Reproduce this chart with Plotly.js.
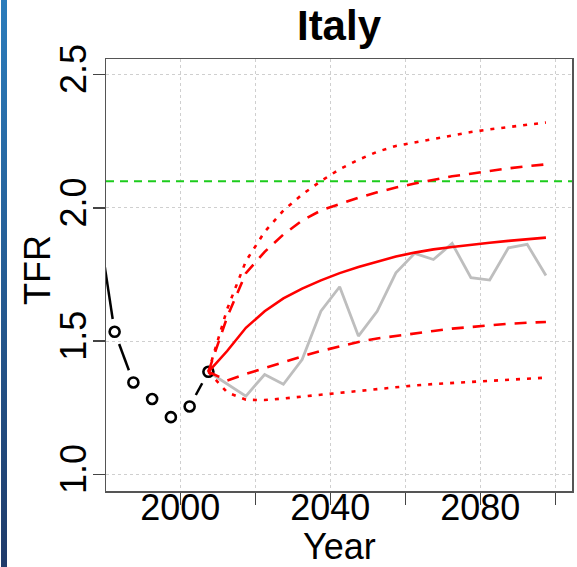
<!DOCTYPE html>
<html>
<head>
<meta charset="utf-8">
<script src="https://cdn.plot.ly/plotly-3.0.1.min.js"></script>
<style>
  html, body { margin: 0; padding: 0; background: #fff; overflow: hidden; }
  #chart { position: absolute; left: 0; top: 0; width: 577px; height: 567px; }
  #bar { position: absolute; left: 1px; top: 0; width: 6px; height: 567px;
         background: linear-gradient(#2b7cbb, #1f3b6a); z-index: 10; }
</style>
</head>
<body>
<div id="chart"></div>
<div id="bar"></div>
<script>
// ---- Data ----
const countryName = "Italy";
const xTitle = "Year";
const yTitle = "TFR";

const obsYears = [1977.5, 1982.5, 1987.5, 1992.5, 1997.5, 2002.5, 2007.5];
const obsTFR   = [2.00, 1.535, 1.345, 1.283, 1.215, 1.255, 1.385];

const projYears = [2007.5, 2012.5, 2017.5, 2022.5, 2027.5, 2032.5, 2037.5, 2042.5, 2047.5,
                   2052.5, 2057.5, 2062.5, 2067.5, 2072.5, 2077.5, 2082.5, 2087.5, 2092.5, 2097.5];

const medianTFR  = [1.385, 1.463, 1.550, 1.612, 1.660, 1.697, 1.728, 1.755, 1.778,
                    1.798, 1.817, 1.832, 1.844, 1.853, 1.862, 1.869, 1.876, 1.882, 1.888];
const upper80TFR = [1.385, 1.590, 1.755, 1.835, 1.900, 1.952, 1.990, 2.015, 2.038,
                    2.058, 2.076, 2.091, 2.105, 2.118, 2.128, 2.139, 2.148, 2.156, 2.163];
const lower80TFR = [1.385, 1.352, 1.377, 1.400, 1.422, 1.443, 1.463, 1.480, 1.497,
                    1.510, 1.520, 1.530, 1.538, 1.547, 1.553, 1.560, 1.565, 1.569, 1.572];
const upper95TFR = [1.385, 1.620, 1.800, 1.910, 1.990, 2.050, 2.100, 2.145, 2.180,
                    2.210, 2.232, 2.245, 2.259, 2.272, 2.284, 2.294, 2.303, 2.312, 2.320];
const lower95TFR = [1.385, 1.308, 1.280, 1.279, 1.285, 1.292, 1.300, 1.307, 1.314,
                    1.321, 1.328, 1.334, 1.339, 1.343, 1.347, 1.351, 1.355, 1.359, 1.363];
const trajectoryTFR = [1.385, 1.340, 1.294, 1.375, 1.338, 1.431, 1.612, 1.704, 1.519,
                       1.612, 1.756, 1.829, 1.806, 1.866, 1.738, 1.729, 1.850, 1.863, 1.746];

const replacementTFR = 2.1;

const xTickVals = [2000, 2020, 2040, 2060, 2080, 2100];
const xTickText = ["2000", "", "2040", "", "2080", ""];
const yTickVals = [1.0, 1.5, 2.0, 2.5];
const yTickText = ["1.0", "1.5", "2.0", "2.5"];

// ---- Layout geometry ----
const W = 577, H = 567;
const M = { l: 106, r: 5, t: 59, b: 76 };
const xRange = [1980.2, 2104.45];
const yRange = [0.938, 2.558];
const plotW = W - M.l - M.r, plotH = H - M.t - M.b;

// R type="b": line segments with gaps around the points
function gapSegments(xs, ys, gapPx) {
  const sx = plotW / (xRange[1] - xRange[0]);
  const sy = plotH / (yRange[1] - yRange[0]);
  const ox = [], oy = [];
  for (let i = 0; i < xs.length - 1; i++) {
    const dx = (xs[i + 1] - xs[i]) * sx, dy = (ys[i + 1] - ys[i]) * sy;
    const L = Math.hypot(dx, dy);
    if (L > 2 * gapPx) {
      const f = gapPx / L;
      ox.push(xs[i] + f * (xs[i + 1] - xs[i]), xs[i + 1] - f * (xs[i + 1] - xs[i]), null);
      oy.push(ys[i] + f * (ys[i + 1] - ys[i]), ys[i + 1] - f * (ys[i + 1] - ys[i]), null);
    }
  }
  return { x: ox, y: oy };
}
const seg = gapSegments(obsYears, obsTFR, 13);

const RED = "#ff0000";
const font = "Liberation Sans, Arial, Helvetica, sans-serif";

const traces = [
  { x: xRange, y: [replacementTFR, replacementTFR], mode: "lines",
    line: { color: "#1ccc1c", width: 2, dash: "8px,6px" }, hoverinfo: "skip" },
  { x: projYears, y: trajectoryTFR, mode: "lines",
    line: { color: "#bebebe", width: 2.8 } },
  { x: seg.x, y: seg.y, mode: "lines", connectgaps: false,
    line: { color: "#000000", width: 2.5 } },
  { x: obsYears, y: obsTFR, mode: "markers", cliponaxis: true,
    marker: { symbol: "circle-open", size: 10, color: "#000000", line: { width: 2.6 } } },
  { x: projYears, y: lower95TFR, mode: "lines", line: { color: RED, width: 2.6, dash: "4px,7px" } },
  { x: projYears, y: upper95TFR, mode: "lines", line: { color: RED, width: 2.6, dash: "4px,7px" } },
  { x: projYears, y: lower80TFR, mode: "lines", line: { color: RED, width: 2.6, dash: "12px,9px" } },
  { x: projYears, y: upper80TFR, mode: "lines", line: { color: RED, width: 2.6, dash: "12px,9px" } },
  { x: projYears, y: medianTFR, mode: "lines", line: { color: RED, width: 2.6 } }
];

const titleFont = { size: 36, family: font, color: "#000" };

const layout = {
  width: W, height: H,
  margin: M,
  paper_bgcolor: "#ffffff", plot_bgcolor: "#ffffff",
  showlegend: false,
  font: { family: font, size: 36, color: "#000" },
  title: { text: "<b>" + countryName + "</b>", font: { family: font, size: 42, color: "#000" },
           x: 0.5, xref: "paper", y: 1 - 11 / H, yref: "container", yanchor: "top" },
  xaxis: {
    range: xRange, tickmode: "array", tickvals: xTickVals, ticktext: xTickText,
    ticks: "outside", ticklen: 12, tickwidth: 1.5, tickcolor: "#444",
    showline: true, mirror: true, linecolor: "#555", linewidth: 1.5,
    showgrid: true, gridcolor: "#cfcfcf", gridwidth: 1, griddash: "dot",
    zeroline: false, tickfont: { size: 36, family: font, color: "#000" },
    ticklabelstandoff: -28
  },
  yaxis: {
    range: yRange, tickmode: "array", tickvals: yTickVals, ticktext: yTickText,
    ticks: "outside", ticklen: 12, tickwidth: 1.5, tickcolor: "#444", tickangle: -90,
    showline: true, mirror: true, linecolor: "#555", linewidth: 1.5,
    showgrid: true, gridcolor: "#cfcfcf", gridwidth: 1, griddash: "dot",
    zeroline: false, tickfont: { size: 36, family: font, color: "#000" },
    ticklabelstandoff: -8
  },
  annotations: [
    { text: xTitle, xref: "paper", yref: "paper", x: 0.5, y: -(546 - (H - M.b)) / plotH,
      xanchor: "center", yanchor: "middle", showarrow: false, font: titleFont },
    { text: yTitle, xref: "paper", yref: "paper", x: -(M.l - 37) / plotW, y: ((H - M.b) - 270) / plotH,
      xanchor: "center", yanchor: "middle", textangle: -90, showarrow: false, font: titleFont }
  ]
};

Plotly.newPlot("chart", traces, layout, { staticPlot: true, displayModeBar: false });
</script>
</body>
</html>
